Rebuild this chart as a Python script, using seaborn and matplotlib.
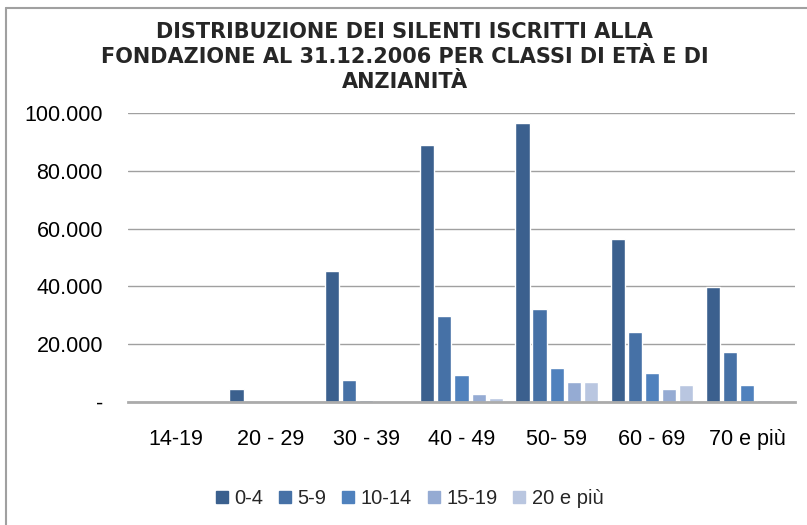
import numpy as np
import pandas as pd
import matplotlib
matplotlib.use("Agg")
import matplotlib.pyplot as plt
from matplotlib.ticker import FuncFormatter
from matplotlib.lines import Line2D
import seaborn as sns

# valori (numero di iscritti silenti)
CLASSI_ETA = ["14-19", "20 - 29", "30 - 39", "40 - 49", "50- 59", "60 - 69", "70 e più"]
ANZIANITA = ["0-4", "5-9", "10-14", "15-19", "20 e più"]
VAL_0_4 = [0, 4400, 45300, 89000, 96600, 56400, 39800]
VAL_5_9 = [0, 0, 7500, 29700, 32100, 24200, 17200]
VAL_10_14 = [0, 0, 600, 9200, 11700, 9900, 5800]
VAL_15_19 = [0, 0, 0, 2700, 6800, 4400, 600]
VAL_20_PIU = [0, 0, 0, 1300, 6800, 5800, 0]
COLORI = ["#3B608E", "#4671A6", "#4F81BD", "#95ABD3", "#B9C6E0"]

serie = [VAL_0_4, VAL_5_9, VAL_10_14, VAL_15_19, VAL_20_PIU]
alldata = {"classe": [], "anzianita": [], "valore": []}
for a, vals in zip(ANZIANITA, serie):
    for c, v in zip(CLASSI_ETA, vals):
        alldata["classe"].append(c)
        alldata["anzianita"].append(a)
        alldata["valore"].append(v)
df = pd.DataFrame(alldata)

sns.set_style("white")
plt.rcParams["font.family"] = ["Liberation Sans", "DejaVu Sans"]

fig = plt.figure(figsize=(8.07, 5.25), dpi=100)
ax = fig.add_axes([0.1586, 0.2349, 0.8265, 0.5493])

sns.barplot(data=df, x="classe", y="valore", hue="anzianita", order=CLASSI_ETA,
            hue_order=ANZIANITA, palette=COLORI, saturation=1, width=0.9, gap=0.17,
            ax=ax, legend=False)

ax.set_ylim(0, 100000)
ax.set_yticks(np.arange(0, 100001, 20000))
ax.yaxis.set_major_formatter(FuncFormatter(
    lambda v, p: "-" if v == 0 else "{:,.0f}".format(v).replace(",", ".")))
ax.grid(axis="y", color="#A0A0A0", linewidth=1.0)
ax.set_axisbelow(True)
for s in ["top", "right", "left"]:
    ax.spines[s].set_visible(False)
ax.spines["bottom"].set_color("#ABABAB")
ax.spines["bottom"].set_linewidth(2)
ax.tick_params(axis="both", length=0, labelsize=15.5, colors="black")
ax.tick_params(axis="y", pad=18)
ax.tick_params(axis="x", pad=20)
ax.set_xlabel("")
ax.set_ylabel("")

fig.text(0.5015, 0.958, "DISTRIBUZIONE DEI SILENTI ISCRITTI ALLA\n"
         "FONDAZIONE AL 31.12.2006 PER CLASSI DI ETÀ E DI\nANZIANITÀ",
         ha="center", va="top", fontsize=15, fontweight="bold",
         family="DejaVu Sans", linespacing=1.3)

handles = [Line2D([], [], marker="s", linestyle="None", markersize=8,
                  markerfacecolor=c, markeredgecolor=c) for c in COLORI]
fig.legend(handles, ANZIANITA, loc="center", bbox_to_anchor=(0.508, 0.05),
           ncol=5, frameon=False, fontsize=14.5, handlelength=0.55,
           handletextpad=0.35, columnspacing=0.8)

# cornice del grafico
fig.add_artist(Line2D([6 / 807, 6 / 807], [0, 1 - 8 / 525], color="#A0A0A0", linewidth=1.5))
fig.add_artist(Line2D([6 / 807, 1], [1 - 8 / 525, 1 - 8 / 525], color="#A0A0A0", linewidth=1.5))

fig.savefig("out.png", dpi=100)
